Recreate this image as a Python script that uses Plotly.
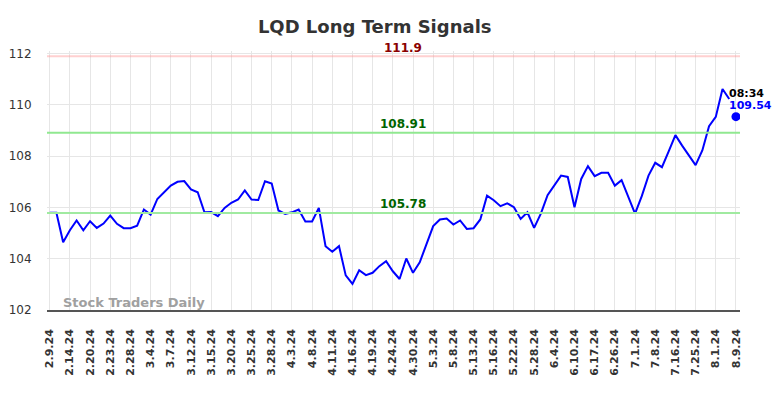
import plotly.graph_objects as go

# ---- data ----
tick_labels = ["2.9.24", "2.14.24", "2.20.24", "2.23.24", "2.28.24", "3.4.24", "3.7.24",
               "3.12.24", "3.15.24", "3.20.24", "3.25.24", "3.28.24", "4.3.24", "4.8.24",
               "4.11.24", "4.16.24", "4.19.24", "4.24.24", "4.30.24", "5.3.24", "5.8.24",
               "5.13.24", "5.16.24", "5.22.24", "5.28.24", "6.4.24", "6.10.24", "6.17.24",
               "6.26.24", "7.1.24", "7.8.24", "7.16.24", "7.25.24", "8.1.24", "8.9.24"]

prices = [105.79, 105.79, 104.64, 105.11, 105.49, 105.11, 105.46, 105.20, 105.37, 105.68,
          105.36, 105.19, 105.19, 105.29, 105.92, 105.72, 106.33, 106.59, 106.85, 107.00,
          107.03, 106.70, 106.59, 105.81, 105.82, 105.66, 105.98, 106.18, 106.31, 106.66,
          106.31, 106.29, 107.02, 106.93, 105.88, 105.75, 105.81, 105.92, 105.45, 105.45,
          105.98, 104.49, 104.27, 104.49, 103.35, 103.02, 103.55, 103.36, 103.45, 103.71,
          103.90, 103.51, 103.21, 104.01, 103.45, 103.86, 104.55, 105.27, 105.53, 105.57,
          105.33, 105.49, 105.16, 105.19, 105.53, 106.46, 106.28, 106.05, 106.16, 106.01,
          105.55, 105.81, 105.20, 105.76, 106.48, 106.88, 107.24, 107.19, 106.01, 107.11,
          107.61, 107.22, 107.35, 107.35, 106.85, 107.06, 106.44, 105.76, 106.44, 107.24,
          107.74, 107.57, 108.19, 108.82, 108.41, 108.02, 107.65, 108.22, 109.17, 109.53,
          110.62, 110.23]
last_price = 109.54
last_time = "08:34"

resistance = 111.9
level_mid = 108.91
support = 105.78

x_idx = list(range(len(prices)))
last_idx = len(prices)
tick_vals = list(range(0, last_idx + 1, 3))

W, H = 776, 390  # page body has an 8px margin

fig = go.Figure()

fig.add_trace(go.Scatter(x=x_idx, y=prices, mode="lines",
                         line=dict(color="#0000ff", width=2), hoverinfo="skip"))
fig.add_trace(go.Scatter(x=[last_idx], y=[last_price], mode="markers",
                         marker=dict(color="#0000ff", size=9), hoverinfo="skip"))

for lvl, col in [(resistance, "rgba(255,150,150,0.45)"), (level_mid, "#90e890"), (support, "#a0eaa0")]:
    fig.add_shape(type="line", xref="paper", x0=0, x1=1, yref="y", y0=lvl, y1=lvl,
                  line=dict(color=col, width=2), layer="above")

mid_x = 52.5
fig.add_annotation(x=mid_x, y=resistance, text=str(resistance), showarrow=False, yanchor="bottom",
                   yshift=-1, font=dict(family="DejaVu Sans", size=12, color="#8b0000", weight="bold"))
fig.add_annotation(x=mid_x, y=level_mid, text=f"{level_mid:.2f}", showarrow=False, yanchor="bottom",
                   yshift=0, font=dict(family="DejaVu Sans", size=12, color="#006400", weight="bold"))
fig.add_annotation(x=mid_x, y=support, text=f"{support:.2f}", showarrow=False, yanchor="bottom",
                   yshift=0, font=dict(family="DejaVu Sans", size=12, color="#006400", weight="bold"))

fig.add_annotation(x=last_idx, y=last_price, text=last_time, showarrow=False, xanchor="left",
                   xshift=-9, yshift=23, font=dict(family="DejaVu Sans", size=11, color="#000000", weight="bold"))
fig.add_annotation(x=last_idx, y=last_price, text=f"{last_price:.2f}", showarrow=False, xanchor="left",
                   xshift=-9, yshift=11, font=dict(family="DejaVu Sans", size=11, color="#0000ff", weight="bold"))

fig.add_annotation(xref="paper", yref="paper", x=0.02, y=0.0, xanchor="left", yanchor="bottom",
                   yshift=-2, text="Stock Traders Daily", showarrow=False,
                   font=dict(family="DejaVu Sans", size=13, color="#a0a0a0", weight="bold"))

fig.update_layout(
    width=W, height=H,
    margin=dict(l=39, r=44, t=43, b=88, autoexpand=False),
    paper_bgcolor="white", plot_bgcolor="white",
    showlegend=False,
    title=dict(text="LQD Long Term Signals", x=366.7 / W, xanchor="center",
               yref="container", y=1 - 19 / H, yanchor="middle", automargin=False,
               font=dict(family="DejaVu Sans", size=18, color="#333333", weight="bold")),
    xaxis=dict(range=[-0.4, 102.6], tickmode="array", tickvals=tick_vals, ticktext=tick_labels,
               tickangle=-90, showgrid=True, gridcolor="#e6e6e6", gridwidth=1, automargin=False,
               tickfont=dict(family="DejaVu Sans", size=11, color="#333333", weight="bold"),
               showline=True, linecolor="#555555", linewidth=1.5, zeroline=False,
               ticks="outside", ticklen=13, tickcolor="rgba(0,0,0,0)"),
    yaxis=dict(range=[102, 112.1], tickvals=[102, 104, 106, 108, 110, 112], automargin=False,
               showgrid=True, gridcolor="#e6e6e6", gridwidth=1, zeroline=False,
               tickfont=dict(family="DejaVu Sans", size=12, color="#333333"),
               ticks="outside", ticklen=12, tickcolor="rgba(0,0,0,0)"),
)

fig.write_html("out.html")
